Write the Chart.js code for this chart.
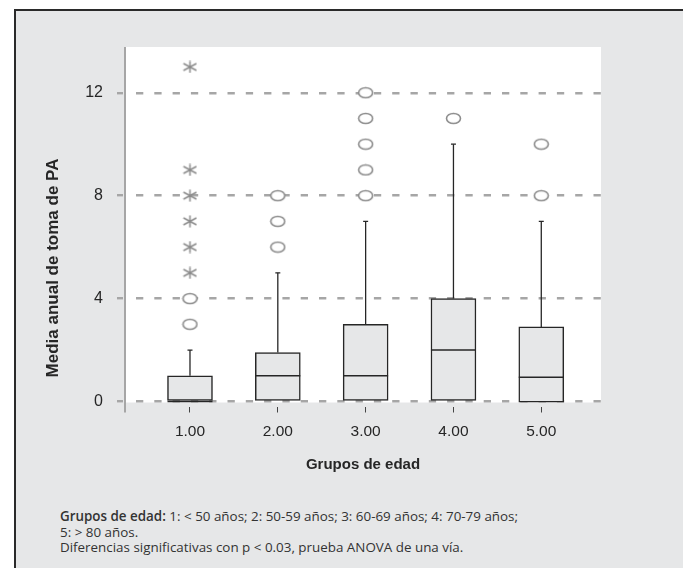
<!DOCTYPE html>
<html>
<head>
<meta charset="utf-8">
<script src="https://cdn.jsdelivr.net/npm/chart.js@4/dist/chart.umd.min.js"></script>
<style>
  html, body { margin: 0; padding: 0; background: #fff; overflow: hidden; }
  #frame {
    position: absolute; left: 14px; top: 9px; width: 700px; height: 600px;
    background: #e6e7e8; border-top: 2px solid #2a2a2a; border-left: 2px solid #2a2a2a;
  }
  #chart { position: absolute; left: 0; top: 0; }
  #note {
    position: absolute; left: 60px; top: 509px; width: 600px;
    font-family: "Open Sans", sans-serif; font-size: 13.4px; line-height: 15.5px; color: #333;
  }
  #note b { font-weight: 600; }
</style>
</head>
<body>
<div id="frame"></div>
<canvas id="chart" width="683" height="480"></canvas>
<div id="note"><b>Grupos de edad:</b> 1: &lt; 50 años; 2: 50-59 años; 3: 60-69 años; 4: 70-79 años;<br>5: &gt; 80 años.<br>Diferencias significativas con p &lt; 0.03, prueba ANOVA de una vía.</div>
<script>
// --- datos ---
const groups = [1, 2, 3, 4, 5];
const groupLabels = ['1.00', '2.00', '3.00', '4.00', '5.00'];
const q1 = [0, 0, 0, 0, -0.03];
const median = [0, 1, 1, 2, 0.94];
const q3 = [1, 1.9, 3, 4, 2.9];
const whiskerTop = [2, 5, 7, 10, 7];
// valores atípicos (círculos) y extremos (asteriscos)
const outlierGroup = [1, 1, 2, 2, 2, 3, 3, 3, 3, 3, 4, 5, 5];
const outlierValue = [3, 4, 6, 7, 8, 8, 9, 10, 11, 12, 11, 8, 10];
const extremeGroup = [1, 1, 1, 1, 1, 1];
const extremeValue = [5, 6, 7, 8, 9, 13];
const yTicks = [0, 4, 8, 12];
const yTitle = 'Media anual de toma de PA';
const xTitle = 'Grupos de edad';

const GRID = '#a6a6a6';
const MARK = '#8c8c8c';
const INK = '#262626';

// marcadores propios: elipse y asterisco de 6 puntas
function makeEllipse() {
  const c = document.createElement('canvas');
  c.width = 17; c.height = 13;
  const g = c.getContext('2d');
  g.beginPath();
  g.ellipse(8.5, 6.5, 7, 5, 0, 0, Math.PI * 2);
  g.fillStyle = '#fff';
  g.fill();
  g.lineWidth = 1.6;
  g.strokeStyle = MARK;
  g.stroke();
  return c;
}
function makeStar() {
  const c = document.createElement('canvas');
  c.width = 15; c.height = 13;
  const g = c.getContext('2d');
  g.lineWidth = 1.5;
  g.strokeStyle = MARK;
  g.beginPath();
  g.moveTo(7.5, 0.5); g.lineTo(7.5, 12.5);
  g.moveTo(1, 3); g.lineTo(14, 10);
  g.moveTo(1, 10); g.lineTo(14, 3);
  g.stroke();
  return c;
}

const whiskerData = [];
groups.forEach((g, i) => {
  whiskerData.push({x: g, y: q3[i]}, {x: g, y: whiskerTop[i]}, {x: g, y: null});
});

const plotBack = {
  id: 'plotBack',
  beforeDraw(chart) {
    const {ctx, chartArea: a, scales: {y}} = chart;
    ctx.save();
    ctx.fillStyle = '#fff';
    const zero = y.getPixelForValue(0) + 1;
    ctx.fillRect(a.left, a.top, a.right - a.left, zero - a.top);
    ctx.restore();
  },
  beforeDatasetsDraw(chart) {
    const {ctx, chartArea: a} = chart;
    ctx.save();
    ctx.strokeStyle = GRID;
    ctx.lineWidth = 2;
    ctx.beginPath();
    ctx.moveTo(a.left, a.top);
    ctx.lineTo(a.left, a.bottom + 6);
    ctx.stroke();
    // título del eje Y
    ctx.translate(53, 268);
    ctx.rotate(-Math.PI / 2);
    ctx.font = 'bold 17px "Liberation Sans", Arial, sans-serif';
    ctx.fillStyle = INK;
    ctx.textAlign = 'center';
    ctx.textBaseline = 'middle';
    ctx.fillText(yTitle, 0, 0);
    ctx.restore();
  }
};

new Chart(document.getElementById('chart'), {
  type: 'scatter',
  data: {
    datasets: [
      {
        type: 'bar',
        data: groups.map((g, i) => ({x: g, y: [q1[i], q3[i]]})),
        backgroundColor: '#e6e7e8',
        borderColor: INK,
        borderWidth: 1.5,
        borderSkipped: false,
        barThickness: 45,
        order: 3
      },
      {
        data: whiskerData,
        showLine: true,
        spanGaps: false,
        borderColor: INK,
        borderWidth: 1.3,
        pointRadius: 0,
        order: 4
      },
      {
        data: groups.map((g, i) => ({x: g, y: median[i]})),
        pointStyle: 'line',
        pointRadius: 22.5,
        borderColor: INK,
        borderWidth: 1.5,
        order: 2
      },
      {
        data: groups.map((g, i) => ({x: g, y: whiskerTop[i]})),
        pointStyle: 'line',
        pointRadius: 2.5,
        borderColor: INK,
        borderWidth: 1.3,
        order: 2
      },
      {
        data: outlierGroup.map((g, i) => ({x: g, y: outlierValue[i]})),
        pointStyle: makeEllipse(),
        pointRadius: 7,
        order: 1
      },
      {
        data: extremeGroup.map((g, i) => ({x: g, y: extremeValue[i]})),
        pointStyle: makeStar(),
        pointRadius: 7,
        order: 1
      }
    ]
  },
  options: {
    responsive: false,
    animation: false,
    devicePixelRatio: 1,
    layout: { padding: { top: 47, right: 82, left: 0, bottom: 0 } },
    plugins: { legend: { display: false }, tooltip: { enabled: false } },
    scales: {
      x: {
        type: 'linear',
        min: 0.26,
        max: 5.68,
        offset: false,
        afterFit(s) { s.height = 73.5; },
        afterBuildTicks(s) { s.ticks = groups.map(v => ({value: v})); },
        ticks: {
          padding: 10,
          color: INK,
          font: { family: '"Liberation Sans", Arial, sans-serif', size: 15.5 },
          callback: (v) => groupLabels[groups.indexOf(v)]
        },
        grid: { drawOnChartArea: false, offset: false, tickLength: 6, tickColor: '#444', tickWidth: 1 },
        border: { display: false },
        title: {
          display: true,
          text: xTitle,
          color: INK,
          padding: { top: 0, bottom: 6 },
          font: { family: '"Liberation Sans", Arial, sans-serif', size: 15, weight: 'bold' }
        }
      },
      y: {
        min: -0.194,
        max: 13.776,
        stacked: false,
        afterFit(s) { s.width = 125; },
        afterBuildTicks(s) { s.ticks = yTicks.map(v => ({value: v})); },
        ticks: {
          padding: 14,
          color: INK,
          font: { family: '"Liberation Sans", Arial, sans-serif', size: 16 }
        },
        grid: {
          color: GRID,
          lineWidth: 2.4,
          tickLength: 8,
          tickColor: GRID,
          tickWidth: 2.4,
          tickBorderDash: [6, 10]
        },
        border: { display: false, dash: [7.3, 11], dashOffset: 7.3 }
      }
    }
  },
  plugins: [plotBack]
});
</script>
</body>
</html>
